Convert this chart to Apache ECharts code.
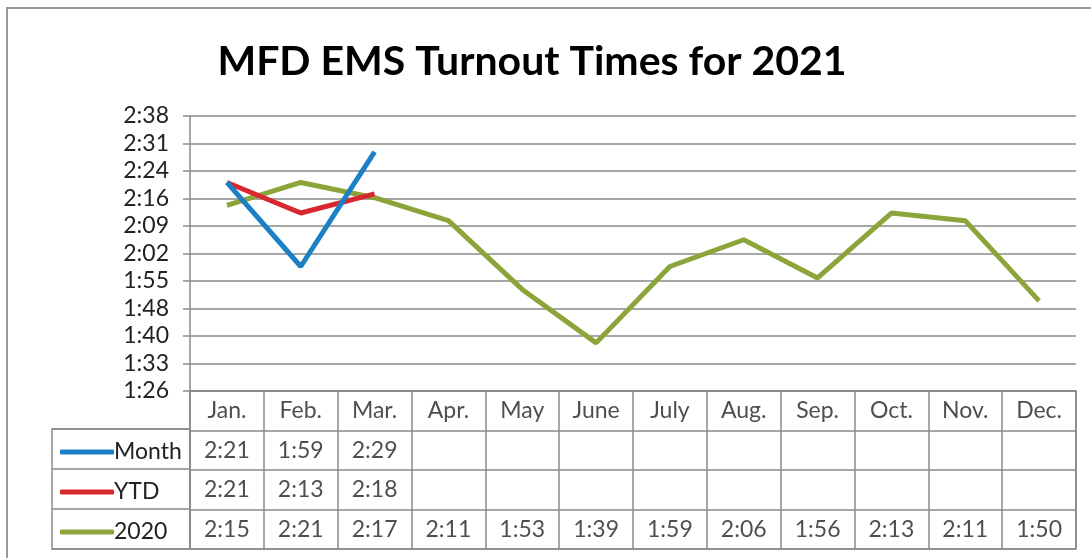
<!DOCTYPE html>
<html>
<head>
<meta charset="utf-8">
<script src="https://cdn.jsdelivr.net/npm/echarts@6/dist/echarts.min.js"></script>
<style>
html,body{margin:0;padding:0;background:#fff;}
#chart{width:1091px;height:558px;}
</style>
</head>
<body>
<div id="chart"></div>
<script>
// ---- data ----
var months = ['Jan.', 'Feb.', 'Mar.', 'Apr.', 'May', 'June', 'July', 'Aug.', 'Sep.', 'Oct.', 'Nov.', 'Dec.'];
var seriesNames = ['Month', 'YTD', '2020'];
var monthValues = ['2:21', '1:59', '2:29'];
var ytdValues = ['2:21', '2:13', '2:18'];
var prevYearValues = ['2:15', '2:21', '2:17', '2:11', '1:53', '1:39', '1:59', '2:06', '1:56', '2:13', '2:11', '1:50'];
var yMin = 86.4, yMax = 158.4, yInterval = 7.2; // seconds

var colors = ['#1b80c4', '#d8282f', '#8ca53b'];
var FONT = 'Lato';
var FS = 23;

function toSec(s) { var p = s.split(':'); return (+p[0]) * 60 + (+p[1]); }
function fmt(v) {
  v = Math.round(v * 10) / 10;
  var m = Math.floor(v / 60), s = Math.floor(v - m * 60 + 1e-6);
  return m + ':' + (s < 10 ? '0' : '') + s;
}

var rowValues = [monthValues, ytdValues, prevYearValues];
var tableRows = ['hdr'].concat(seriesNames);

var series = [];
rowValues.forEach(function (vals, k) {
  series.push({
    name: seriesNames[k], type: 'line', xAxisIndex: 0, yAxisIndex: 0,
    data: vals.map(toSec), symbol: 'none', smooth: false,
    lineStyle: { width: 5, color: colors[k] }, itemStyle: { color: colors[k] },
    z: 10 - k
  });
});
function textSeries(rowName, vals) {
  return {
    type: 'scatter', xAxisIndex: 1, yAxisIndex: 1, silent: true,
    symbolSize: 1, itemStyle: { color: 'rgba(0,0,0,0)' },
    data: vals.map(function (v, i) { return [months[i], rowName, v]; }),
    label: { show: true, position: 'inside', formatter: function (p) { return p.data[2]; },
      fontFamily: FONT, fontSize: FS, color: '#222' }
  };
}
series.push(textSeries('hdr', months));
rowValues.forEach(function (vals, k) { series.push(textSeries(seriesNames[k], vals)); });

var gridLine = { color: '#8a8a8a', width: 1.5 };

var option = {
  animation: false,
  backgroundColor: '#fff',
  title: {
    text: 'MFD EMS Turnout Times for 2021', left: 527, top: 36, textAlign: 'center',
    textStyle: { fontFamily: FONT, fontWeight: 'bold', fontSize: 41, color: '#000' }
  },
  legend: {
    orient: 'vertical', left: 55, top: 435, itemGap: 16,
    itemWidth: 54, itemHeight: 5, icon: 'roundRect', selectedMode: false,
    data: seriesNames,
    textStyle: { fontFamily: FONT, fontSize: FS, color: '#222', lineHeight: 24, padding: [0, 0, 0, -5] }
  },
  grid: [
    { left: 190, right: 15, top: 116, height: 275 },
    { left: 190, right: 15, top: 391, height: 158, show: true, borderColor: '#8a8a8a', borderWidth: 1.5 },
    { left: 52, width: 138, top: 429, height: 120, show: true, borderColor: '#8a8a8a', borderWidth: 1.5 }
  ],
  xAxis: [
    { type: 'category', gridIndex: 0, data: months, boundaryGap: true,
      axisLine: { show: true, lineStyle: gridLine }, axisTick: { show: false }, axisLabel: { show: false } },
    { type: 'category', gridIndex: 1, data: months, boundaryGap: true,
      axisLine: { show: false }, axisTick: { show: false }, axisLabel: { show: false },
      splitLine: { show: true, interval: 0, lineStyle: gridLine } },
    { type: 'value', gridIndex: 2, show: false, min: 0, max: 1 }
  ],
  yAxis: [
    { type: 'value', gridIndex: 0, min: yMin, max: yMax, interval: yInterval,
      axisLine: { show: true, lineStyle: gridLine },
      axisTick: { show: true, length: 7, lineStyle: gridLine },
      axisLabel: { formatter: fmt, fontFamily: FONT, fontSize: FS, color: '#222', margin: 21 },
      splitLine: { show: true, lineStyle: gridLine } },
    { type: 'category', gridIndex: 1, data: tableRows, inverse: true, boundaryGap: true,
      axisLine: { show: false }, axisTick: { show: false }, axisLabel: { show: false },
      splitLine: { show: true, interval: 0, lineStyle: gridLine } },
    { type: 'category', gridIndex: 2, data: seriesNames, inverse: true, boundaryGap: true,
      axisLine: { show: false }, axisTick: { show: false }, axisLabel: { show: false },
      splitLine: { show: true, interval: 0, lineStyle: gridLine } }
  ],
  graphic: [
    { type: 'polyline', silent: true, shape: { points: [[7, 558], [7, 8], [1091, 8]] },
      style: { stroke: '#9a9a9a', lineWidth: 2, fill: null } }
  ],
  series: series
};

var chart = echarts.init(document.getElementById('chart'));
chart.setOption(option);
</script>
</body>
</html>
